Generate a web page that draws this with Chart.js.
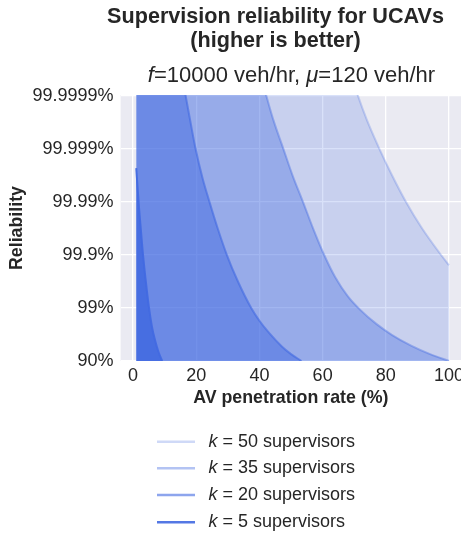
<!DOCTYPE html>
<html>
<head>
<meta charset="utf-8">
<title>Supervision reliability for UCAVs</title>
<script src="https://cdn.jsdelivr.net/npm/chart.js@4.4.1/dist/chart.umd.min.js"></script>
<style>
html, body { margin: 0; padding: 0; background: #fff; overflow: hidden; }
canvas { display: block; }
</style>
</head>
<body>
<canvas id="chart" width="461" height="533"></canvas>
<script>
// --- DATA ---
// x = AV penetration rate (%), y = reliability in "nines" (1 = 90%, 2 = 99%, ... 6 = 99.9999%)
// the first points of k = 50/35/20 sit above the top of the axis: the curves leave the frame there
const supervisors = [50, 35, 20, 5];

const rateK50 = [1, 69.6, 71.1, 74, 78, 82, 86.4, 91.5, 97.5, 100];
const ninesK50 = [6.3, 6.3, 6.02, 5.55, 5.0, 4.5, 4.0, 3.5, 3.0, 2.81];

const rateK35 = [1, 40.7, 42.1, 44.4, 47.6, 50.5, 53.8, 57, 60.5, 64, 68, 72, 77, 82, 88, 94, 100];
const ninesK35 = [6.3, 6.3, 6.02, 5.55, 5.0, 4.5, 4.0, 3.5, 3.0, 2.58, 2.22, 1.96, 1.7, 1.49, 1.29, 1.13, 1.0];

const rateK20 = [1, 15.8, 16.6, 18.2, 19.8, 22, 24.3, 26.8, 29.7, 33.2, 37.4, 40, 43.2, 47, 50, 53.3];
const ninesK20 = [6.3, 6.3, 6.02, 5.5, 5.0, 4.45, 3.98, 3.5, 3.0, 2.5, 2.0, 1.76, 1.52, 1.28, 1.13, 1.0];

const rateK5 = [1, 2, 3, 4, 5, 6, 7, 8, 9, 9.2];
const ninesK5 = [4.64, 3.8, 3.1, 2.52, 2.02, 1.64, 1.38, 1.18, 1.03, 1.0];

const xTicks = [0, 20, 40, 60, 80, 100];
const yTicks = [1, 2, 3, 4, 5, 6];
const yTickLabels = ['90%', '99%', '99.9%', '99.99%', '99.999%', '99.9999%'];

// --- STYLE ---
const FONT = '"Liberation Sans", Arial, sans-serif';
const TEXT = '#262626';
const BLUE = '65, 105, 225';
const fillAlpha = [0.2, 0.36, 0.5, 0.85];
const lineAlpha = [0.25, 0.4, 0.6, 0.9];

const toPoints = (xs, ys) => xs.map((x, i) => ({ x: x, y: ys[i] }));
const series = [
    toPoints(rateK50, ninesK50),
    toPoints(rateK35, ninesK35),
    toPoints(rateK20, ninesK20),
    toPoints(rateK5, ninesK5)
];

const datasets = series.map((pts, i) => ({
    label: 'k = ' + supervisors[i] + ' supervisors',
    data: pts,
    borderColor: `rgba(${BLUE}, ${lineAlpha[i]})`,
    backgroundColor: `rgba(${BLUE}, ${fillAlpha[i]})`,
    borderWidth: 2,
    fill: 'start',
    pointRadius: 0,
    cubicInterpolationMode: 'monotone',
    order: 3 - i
}));

// Draw text made of pieces with different fonts, centred or left aligned
function drawRuns(ctx, runs, x, y, align) {
    let total = 0;
    runs.forEach(r => { ctx.font = r.font; r.w = ctx.measureText(r.text).width; total += r.w; });
    let cx = align === 'center' ? x - total / 2 : x;
    ctx.textAlign = 'left';
    ctx.textBaseline = 'middle';
    runs.forEach(r => { ctx.font = r.font; ctx.fillText(r.text, cx, y); cx += r.w; });
}

// Axes background (seaborn darkgrid)
const backgroundPlugin = {
    id: 'axesBackground',
    beforeDraw(chart) {
        const { ctx, chartArea: a } = chart;
        ctx.save();
        ctx.fillStyle = '#eaeaf2';
        ctx.fillRect(a.left, a.top, a.right - a.left, a.bottom - a.top);
        ctx.restore();
    }
};

// Titles and legend
const textPlugin = {
    id: 'titlesAndLegend',
    afterDraw(chart) {
        const ctx = chart.ctx;
        ctx.save();
        ctx.fillStyle = TEXT;
        const bold = `bold 21.6px ${FONT}`;
        const reg = `22px ${FONT}`;
        const ital = `italic 22px ${FONT}`;
        drawRuns(ctx, [{ text: 'Supervision reliability for UCAVs', font: bold }], 275.5, 17, 'center');
        drawRuns(ctx, [{ text: '(higher is better)', font: bold }], 275.5, 41, 'center');
        drawRuns(ctx, [
            { text: 'f', font: ital },
            { text: '=10000 veh/hr, ', font: reg },
            { text: 'μ', font: ital },
            { text: '=120 veh/hr', font: reg }
        ], 291.5, 76, 'center');

        // legend: k = 50 on top down to k = 5
        const legendY = [441.7, 468.3, 495, 522.3];
        chart.data.datasets.forEach((ds, i) => {
            const y = legendY[i];
            ctx.strokeStyle = ds.borderColor;
            ctx.lineWidth = 2.6;
            ctx.beginPath();
            ctx.moveTo(157, y);
            ctx.lineTo(195, y);
            ctx.stroke();
            ctx.fillStyle = TEXT;
            drawRuns(ctx, [
                { text: 'k', font: `italic 18px ${FONT}` },
                { text: ' = ' + supervisors[i] + ' supervisors', font: `18px ${FONT}` }
            ], 208.5, y, 'left');
        });
        ctx.restore();
    }
};

const tickFont = { family: FONT, size: 18 };
const labelFont = { family: FONT, size: 17.8, weight: 'bold' };

new Chart(document.getElementById('chart'), {
    type: 'line',
    data: { datasets: datasets },
    options: {
        responsive: false,
        animation: false,
        events: [],
        layout: { padding: { top: 95, left: 0, right: 0, bottom: 0 } },
        plugins: {
            legend: { display: false },
            tooltip: { enabled: false }
        },
        scales: {
            x: {
                type: 'linear',
                min: -3.95,
                max: 103.8,
                afterBuildTicks: (s) => { s.ticks = xTicks.map(v => ({ value: v })); },
                afterFit: (s) => { s.height = 172; s.paddingLeft = 0; s.paddingRight = 0; },
                grid: { color: '#ffffff', lineWidth: 1.3, drawTicks: false },
                border: { display: false },
                ticks: { color: TEXT, font: tickFont, padding: 4, maxRotation: 0 },
                title: {
                    display: true,
                    text: 'AV penetration rate (%)',
                    color: TEXT,
                    font: labelFont,
                    padding: { top: 0, bottom: 124.3 }
                }
            },
            y: {
                type: 'linear',
                min: 1,
                max: 6.02,
                afterBuildTicks: (s) => { s.ticks = yTicks.map(v => ({ value: v })); },
                afterFit: (s) => { s.width = 120.6; s.paddingTop = 0; s.paddingBottom = 0; },
                grid: { color: '#ffffff', lineWidth: 1.3, drawTicks: false },
                border: { display: false },
                ticks: {
                    color: TEXT,
                    font: tickFont,
                    padding: 7,
                    callback: (v) => yTickLabels[yTicks.indexOf(v)]
                },
                title: {
                    display: true,
                    text: 'Reliability',
                    color: TEXT,
                    font: labelFont,
                    padding: { top: 6, bottom: 0 }
                }
            }
        }
    },
    plugins: [backgroundPlugin, textPlugin]
});
</script>
</body>
</html>
